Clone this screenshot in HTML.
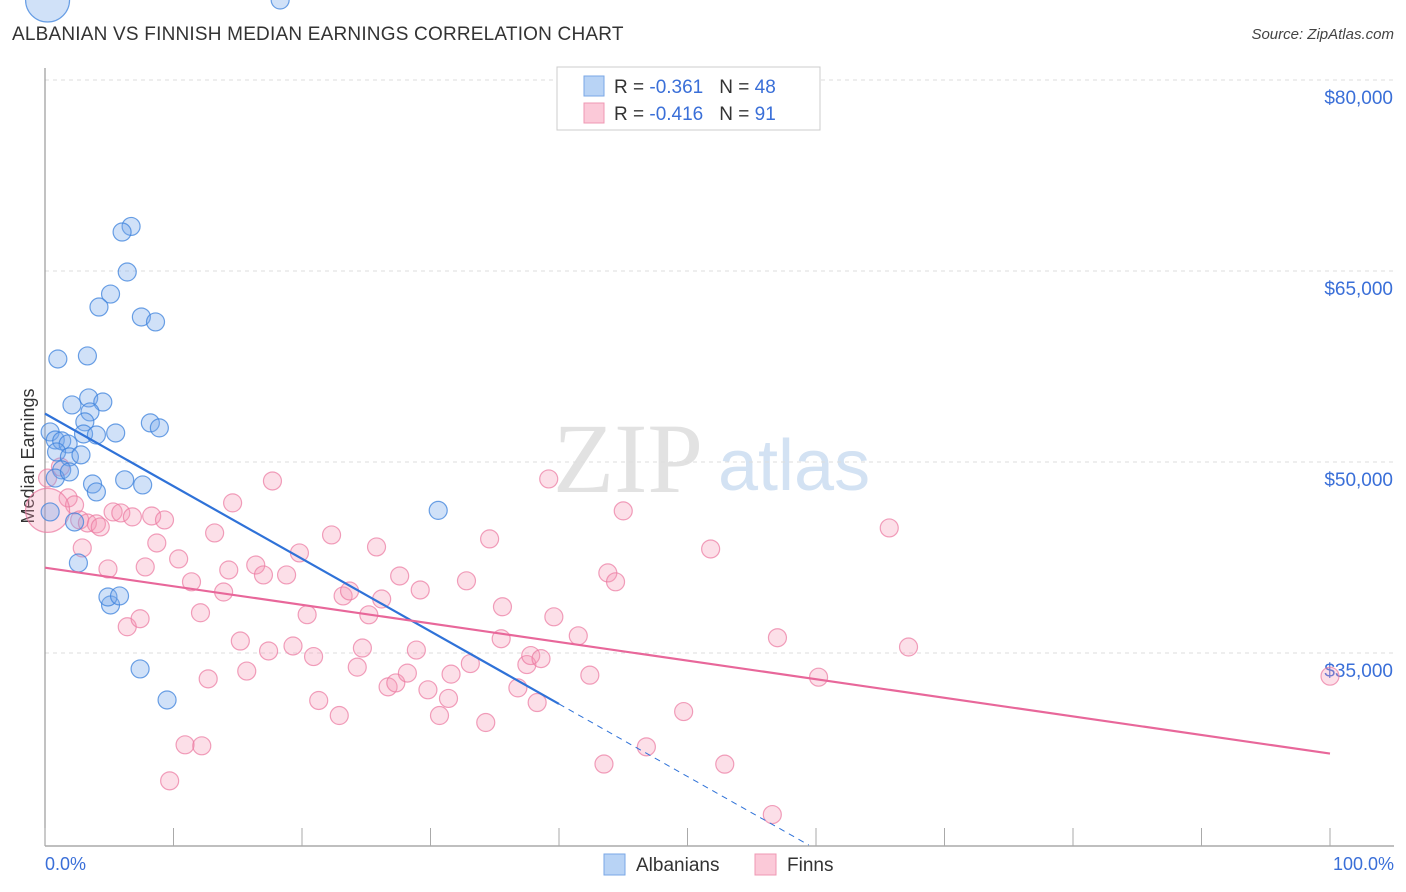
<!DOCTYPE html>
<html><head><meta charset="utf-8">
<style>
body{margin:0;background:#fff;font-family:"Liberation Sans",sans-serif;}
svg{display:block}
</style></head>
<body>
<svg id="chart" width="1406" height="892" viewBox="0 0 1406 892" xmlns="http://www.w3.org/2000/svg">
<text x="12" y="40" font-size="19" fill="#333" letter-spacing="0.2">ALBANIAN VS FINNISH MEDIAN EARNINGS CORRELATION CHART</text>
<text x="1394" y="39" font-size="15" fill="#444" font-style="italic" text-anchor="end">Source: ZipAtlas.com</text>
<text x="553" y="492" font-size="100" fill="#e2e2e2" font-family="Liberation Serif,serif">ZIP</text>
<text x="718" y="490" font-size="72" fill="#d3e2f3">atlas</text>
<g id="grid"></g>
<line x1="45" y1="68" x2="45" y2="846" stroke="#999" stroke-width="1.2"/>
<line x1="45" y1="846" x2="1394" y2="846" stroke="#999" stroke-width="1.2"/>
<g id="xticks"></g>
<g id="ylabels"></g>
<text transform="translate(34,456) rotate(-90)" font-size="18" fill="#333" text-anchor="middle">Median Earnings</text>
<text x="45" y="870" font-size="18" fill="#3a6fd8">0.0%</text>
<text x="1394" y="870" font-size="18" fill="#3a6fd8" text-anchor="end">100.0%</text>
<g id="points"></g>
<g id="trends"></g>
<g>
<rect x="557" y="67" width="263" height="63" fill="#fff" stroke="#ccc"/>
<rect x="584" y="76" width="20" height="20" fill="#b8d3f5" stroke="#7aa7e6"/>
<rect x="584" y="103" width="20" height="20" fill="#fbc9d8" stroke="#ef98b3"/>
<text x="614" y="93" font-size="19" fill="#333">R = <tspan fill="#3a6fd8">-0.361</tspan><tspan dx="16">N = </tspan><tspan fill="#3a6fd8">48</tspan></text>
<text x="614" y="120" font-size="19" fill="#333">R = <tspan fill="#3a6fd8">-0.416</tspan><tspan dx="16">N = </tspan><tspan fill="#3a6fd8"> 91</tspan></text>
</g>
<g>
<rect x="604" y="854" width="21" height="21" fill="#b8d3f5" stroke="#7aa7e6"/>
<text x="636" y="871" font-size="19" fill="#333">Albanians</text>
</g>
<g>
<rect x="755" y="854" width="21" height="21" fill="#fbc9d8" stroke="#ef98b3"/>
<text x="787" y="871" font-size="19" fill="#333">Finns</text>
</g>
</svg>
<script>
const yTicks=[80000,65000,50000,35000];
const yTickLabels=["$80,000","$65,000","$50,000","$35,000"];
const xTicks=[0,10,20,30,40,50,60,70,80,90,100];
const albX=[6.7,6.0,6.4,5.1,4.2,7.5,8.6,1.0,3.3,3.4,2.1,4.5,3.5,3.1,8.2,8.9,5.5,3.0,4.0,0.4,0.8,1.3,1.8,0.9,1.9,2.8,1.3,6.2,3.7,4.0,7.6,0.8,1.9,0.4,2.3,2.6,5.1,4.9,5.8,7.4,9.5,30.6,18.3,0.2];
const albY=[68500,68060,64920,63190,62170,61390,61000,58090,58330,55030,54480,54710,53930,53150,53070,52680,52280,52200,52120,52360,51730,51660,51420,50790,50400,50560,49380,48600,48270,47650,48200,48740,49220,46080,45290,42070,38770,39400,39480,33750,31310,46200];
const finX=[0.2,1.2,1.8,2.3,2.7,3.3,4.0,4.3,2.9,4.9,5.3,5.9,6.8,8.3,9.3,8.7,7.8,10.4,11.4,12.1,12.7,10.9,12.2,9.7,6.4,7.4,14.6,13.2,13.9,14.3,15.2,15.7,16.4,17.0,17.4,17.7,18.8,19.3,19.8,20.4,20.9,21.3,22.3,22.9,23.2,23.7,24.3,24.7,25.2,25.8,26.2,26.7,27.3,27.6,28.2,28.9,29.2,29.8,30.7,31.4,31.6,32.8,33.1,34.3,34.6,35.6,35.5,36.8,37.5,37.8,38.6,38.3,39.2,39.6,41.5,42.4,43.5,43.8,44.4,45.0,46.8,49.7,51.8,52.9,57.0,56.6,60.2,65.7,67.2,100,0.2];
const finY=[48740,49610,47180,46630,45450,45210,45140,44900,43250,41600,46080,46000,45690,45760,45450,43640,41760,42390,40590,38160,32970,27790,27710,24960,37060,37690,46790,44430,39790,41520,35940,33580,41910,41130,35160,48510,41130,35550,42860,38010,34720,31270,44270,30090,39480,39870,33890,35390,38000,43330,39240,32340,32650,41050,33420,35230,39950,32110,30090,31430,33340,40670,34170,29540,43960,38630,36120,32260,34090,34800,34560,31110,48670,37840,36350,33260,26280,41290,40590,46160,27630,30400,43170,26270,36200,22310,33100,44820,35470,33180,46200];
const albTrend=[53800,31000];   // value at x=0 and x=40 (%)
const albTrendX=[0,40,60];
const finTrend=[41700,27100];   // value at x=0 and x=100

const X0=45,X1=1330,YTOP=80,PXPER=191/15000;
const xs=p=>X0+(X1-X0)*p/100;
const ys=v=>YTOP+(80000-v)*PXPER;
const NS="http://www.w3.org/2000/svg";
function mk(tag,attrs,parent){const e=document.createElementNS(NS,tag);for(const k in attrs)e.setAttribute(k,attrs[k]);parent.appendChild(e);return e;}
const grid=document.getElementById('grid'),yl=document.getElementById('ylabels');
yTicks.forEach((v,i)=>{
  const l=mk('line',{x1:X0,x2:1394,y1:ys(v),y2:ys(v),stroke:'#ddd','stroke-dasharray':'4,4'},grid);
  
  
  const t=mk('text',{x:1393,y:ys(v)+24,'font-size':19,fill:'#3a6fd8','text-anchor':'end'},yl);
  t.textContent=yTickLabels[i];
  
  
});
const xt=document.getElementById('xticks');
xTicks.forEach(p=>{
  const l=mk('line',{x1:xs(p),x2:xs(p),y1:828,y2:846,stroke:'#aaa'},xt);
  
  
});
const pts=document.getElementById('points');
function dot(x,y,big,blue){
  const c=mk('circle',{cx:xs(x),cy:ys(y),r:big?22:9,fill:blue?'rgba(120,170,235,0.35)':'rgba(245,150,180,0.3)',stroke:blue?'rgba(60,130,220,0.75)':'rgba(235,120,160,0.7)','stroke-width':1.2},pts);
  
  
}
finX.forEach((x,i)=>dot(x,finY[i],i===finX.length-1,false));
albX.forEach((x,i)=>dot(x,albY[i],i===albX.length-1,true));
const tr=document.getElementById('trends');
const slopeA=(albTrend[1]-albTrend[0])/40;
const aY=p=>albTrend[0]+slopeA*p;
let l=mk('line',{x1:xs(0),y1:ys(aY(0)),x2:xs(albTrendX[1]),y2:ys(aY(albTrendX[1])),stroke:'#2f72d8','stroke-width':2.2},tr);


const pEnd=(19920-albTrend[0])/slopeA;
l=mk('line',{x1:xs(albTrendX[1]),y1:ys(aY(albTrendX[1])),x2:xs(pEnd),y2:ys(aY(pEnd)),stroke:'#2f72d8','stroke-width':1,'stroke-dasharray':'6,5'},tr);


l=mk('line',{x1:xs(0),y1:ys(finTrend[0]),x2:xs(100),y2:ys(finTrend[1]),stroke:'#e8679a','stroke-width':2.2},tr);


</script>
</body></html>
